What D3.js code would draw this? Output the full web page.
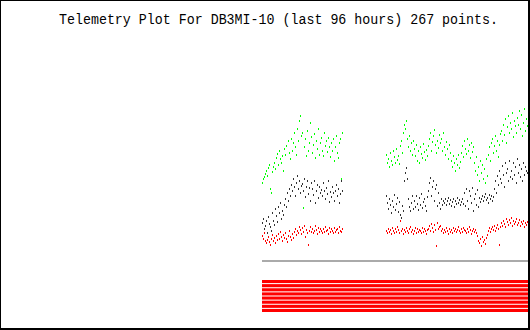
<!DOCTYPE html>
<html>
<head>
<meta charset="utf-8">
<script src="https://cdn.jsdelivr.net/npm/d3@7"></script>
<style>
  body { margin: 0; background: #fff; }
  svg { display: block; }
</style>
</head>
<body>
<div id="chart"></div>
<script>
const titleText = 'Telemetry Plot For DB3MI-10 (last 96 hours) 267 points.'

// two runs of samples, index = sample slot on the time axis
const seg1Start = 0
const seg2Start = 124

const green1 = [68,72,74,77,80,75,83,86,62,58, 79,84,88,82,93,97,86,100,92,88,
  95,80,102,96,105,58,110,98,92,112, 100,108,118,104,96,122,110,130,135,115,
  118,43,104,112,95,120,100,108,128,114, 98,106,117,93,110,102,122,96,108,113,
  100,95,118,105,110,99,113,104,94,108, 100,112,90,104,115,98,93,108,112,72, 118]
const black1 = [28,32,22,25,30,18,34,27,24,20, 38,30,26,42,35,29,44,38,48,32,
  40,36,46,52,44,58,50,62,55,66, 60,72,64,55,68,75,62,70,58,65,
  67,60,72,54,64,70,57,63,50,68, 62,56,70,48,60,66,53,64,58,61,
  55,68,60,52,63,57,70,49,59,54, 64,58,50,60,66,55,62,48,57,70, 60]
const red1 = [15,12,18,10,8,11,14,9,6,12, 16,10,13,8,15,11,17,12,19,14,
  10,16,13,18,12,9,15,20,14,11, 17,13,19,22,16,20,18,24,21,17,
  23,19,25,14,21,18,6,20,24,19, 22,18,20,25,21,17,23,19,22,20,
  18,22,19,24,20,21,17,23,19,22, 20,18,23,19,21,22,18,24,20,19, 22]

const green2 = [96,88,92,84,98,90,86,100,94,88,102,91,95,87,
  105,110,98,118,126,122,130,112,104,115,100,108,96,110,
  102,95,106,90,100,88,104,97,93,107,99,91,101,95,
  105,112,118,100,109,115,121,106,98,110,103,116,108,
  112,100,118,104,96,109,102,92,106,98,
  90,84,95,88,80,92,86,96,83,89,
  98,105,94,110,102,97,112,100,106,93,108,99,104,
  88,80,94,76,84,70,90,78,86,72,82,68,92,75,
  96,104,90,108,112,98,105,115,100,110,94,106,117,
  120,110,126,116,132,108,124,135,118,128,122,138,114,130,125,
  118,133,126,140,122,136,115,128,142,120,132,125]
const black2 = [55,48,42,52,46,38,50,44,56,41,47,53,39,49,
  36,33,45,40,70,78,83,72,52,44,40,48,55,42,
  50,44,55,47,41,53,46,57,43,49,52,45,40,54,
  60,68,73,55,64,70,50,62,66,45,58,48,42,52,46,50,
  48,52,46,50,53,47,51,45,49,52,44,50,47,53,48,51,46,49,52,47,
  58,45,62,50,42,60,55,48,63,40,52,57,46,61,44,53,49,
  52,55,50,54,57,51,53,48,56,52,55,50,54,
  62,70,58,75,66,80,72,68,85,76,64,88,78,82,70,90,74,
  80,72,88,76,84,68,92,78,86,74,82,70,88,76,84,80,78]
const red2 = [20,18,22,19,21,17,23,20,18,22,19,24,21,18,30,20,22,17,21,19,23,
  20,18,22,24,19,21,17,20,23,18,22,19,21,20,18,23,19,22,20,17,21,
  22,25,20,27,23,19,26,21,5,28,22,24,25,
  20,22,18,21,19,23,20,17,22,19,21,18,23,20,22,19,21,24,20,18,22,19,23,21,20,18,22,19,24,21,17,20,22,19,21,18,
  15,10,8,12,5,14,9,11,7,13,16,
  20,23,19,22,24,21,25,20,23,26,22,6,24,
  28,25,30,27,24,32,29,26,31,28,33,25,30,27,29,32,26,28,31,25,29,27,30,24,28,26,29]

// status bits shown as bars under the plot
const bitRows = ['b1','b2','b3','b4','b5','b6','b7','b8']
const baseline = 0

const W = 530, H = 330

const svg = d3.select('#chart')
  .append('svg')
  .attr('width', W)
  .attr('height', H)
  .style('background', '#fff')

let xScale = d3.scaleLinear()
  .domain([0, 268])
  .range([262, 530])

let yScale = d3.scaleLinear()
  .domain([0, 150])
  .range([250, 100])

let bitScale = d3.scaleBand()
  .domain(bitRows)
  .range([280, 312])
  .paddingInner(0.25)
  .align(0)

function toPoints(arr, start) {
  return arr.map((v, i) => ({ t: start + i, v: v }))
}

const series = [
  { color: '#00ff00', pts: toPoints(green1, seg1Start).concat(toPoints(green2, seg2Start)) },
  { color: '#333333', pts: toPoints(black1, seg1Start).concat(toPoints(black2, seg2Start)) },
  { color: '#ff0000', pts: toPoints(red1, seg1Start).concat(toPoints(red2, seg2Start)) }
]

svg.append('text')
  .attr('x', 59)
  .attr('y', 24)
  .attr('textLength', 439)
  .attr('lengthAdjust', 'spacingAndGlyphs')
  .style('font-family', 'Liberation Mono, monospace')
  .style('font-size', '14px')
  .attr('fill', '#000')
  .text(titleText)

series.forEach(s => {
  svg.append('g')
    .selectAll('rect')
    .data(s.pts)
    .enter()
    .append('rect')
    .attr('x', d => Math.round(xScale(d.t)))
    .attr('y', d => Math.round(yScale(d.v)))
    .attr('width', 1)
    .attr('height', 2)
    .attr('fill', s.color)
})

svg.append('line')
  .attr('x1', xScale(0))
  .attr('x2', xScale(268))
  .attr('y1', yScale(baseline) + 11)
  .attr('y2', yScale(baseline) + 11)
  .attr('stroke', '#aaaaaa')
  .attr('stroke-width', 2)

svg.append('g')
  .selectAll('rect')
  .data(bitRows)
  .enter()
  .append('rect')
  .attr('x', xScale(0))
  .attr('y', d => bitScale(d))
  .attr('width', xScale(268) - xScale(0))
  .attr('height', bitScale.bandwidth())
  .attr('fill', '#ff0000')

// frame
svg.append('rect').attr('x', 0).attr('y', 0).attr('width', 1).attr('height', H).attr('fill', '#000')
svg.append('rect').attr('x', 0).attr('y', 0).attr('width', W).attr('height', 1).attr('fill', '#000')
svg.append('rect').attr('x', W - 2).attr('y', 0).attr('width', 2).attr('height', H).attr('fill', '#000')
svg.append('rect').attr('x', 0).attr('y', H - 2).attr('width', W).attr('height', 2).attr('fill', '#000')
</script>
</body>
</html>
